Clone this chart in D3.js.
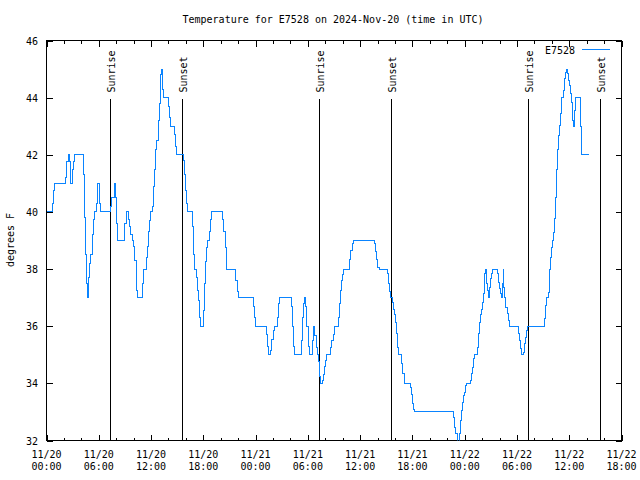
<!DOCTYPE html>
<html>
<head>
<meta charset="utf-8">
<script src="https://cdn.jsdelivr.net/npm/d3@7"></script>
<style>
  html, body { margin: 0; padding: 0; background: #fff; }
  svg { display: block; }
  text { font-family: "DejaVu Sans Mono", monospace; font-size: 10px; fill: #000; }
</style>
</head>
<body>
<svg id="chart" width="640" height="480"></svg>
<script>
// ---------------- data ----------------
const titleText = "Temperature for E7528 on 2024-Nov-20 (time in UTC)";
const yLabelText = "degrees F";
const seriesName = "E7528";
const startISO = "2024-11-20T00:00:00Z";
const endISO = "2024-11-22T18:00:00Z";

// minutes since 2024-11-20 00:00 UTC (each value holds until the next reading)
const offsetMinutes = [
  3, 41, 48, 58, 133, 140, 149, 156, 163, 177, 186, 193, 255, 264, 271, 278, 282, 287, 292, 298,
  305, 317, 324, 333, 347, 354, 363, 370, 443, 450, 466, 475, 484, 489, 539, 549, 562, 571, 581, 590,
  599, 608, 617, 622, 627, 661, 668, 686, 695, 702, 709, 718, 732, 739, 746, 753, 760, 769, 776, 782,
  787, 792, 796, 803, 840, 847, 854, 879, 886, 895, 943, 950, 957, 964, 971, 1005, 1012, 1019, 1030, 1039,
  1046, 1053, 1060, 1081, 1088, 1097, 1104, 1111, 1120, 1127, 1133, 1211, 1221, 1230, 1237, 1241, 1303, 1312, 1322, 1427,
  1434, 1441, 1517, 1523, 1528, 1542, 1551, 1560, 1569, 1588, 1597, 1604, 1689, 1696, 1702, 1707, 1753, 1762, 1771, 1780,
  1785, 1794, 1803, 1810, 1831, 1838, 1849, 1861, 1868, 1874, 1879, 1884, 1900, 1906, 1913, 1920, 1930, 1957, 1966, 1975,
  1985, 2012, 2019, 2026, 2033, 2040, 2047, 2085, 2095, 2104, 2113, 2258, 2267, 2274, 2281, 2292, 2347, 2354, 2361, 2368,
  2384, 2391, 2398, 2404, 2411, 2418, 2425, 2446, 2455, 2464, 2505, 2515, 2521, 2528, 2533, 2801, 2813, 2820, 2829, 2843,
  2852, 2859, 2866, 2872, 2879, 2886, 2891, 2921, 2927, 2934, 2939, 2946, 2966, 2973, 2980, 2987, 2994, 3001, 3008, 3015,
  3019, 3024, 3031, 3038, 3042, 3049, 3056, 3065, 3070, 3104, 3113, 3120, 3127, 3134, 3141, 3145, 3150, 3157, 3164, 3173,
  3180, 3187, 3251, 3258, 3265, 3271, 3283, 3290, 3297, 3304, 3310, 3430, 3437, 3444, 3455, 3462, 3466, 3473, 3480, 3485,
  3492, 3499, 3505, 3512, 3519, 3526, 3533, 3542, 3549, 3558, 3565, 3574, 3579, 3586, 3593, 3600, 3606, 3613, 3620, 3625,
  3629, 3634, 3641, 3675, 3682, 3735
];
// temperature, degrees F
const temps = [
  40, 40.3, 40.75, 41, 41.2, 41.75, 42, 41.75, 41, 41.5, 41.75, 42, 41.3, 39.8, 38.5, 37.5, 37, 37.25, 37.7, 38.2,
  38.5, 39.2, 39.75, 40, 40.3, 41, 40.3, 40, 40.2, 40.5, 41, 40.5, 39.6, 39, 39.6, 40, 39.75, 39.5, 39.2, 39,
  38.8, 38.3, 37.7, 37.25, 37, 37.5, 38, 38.4, 38.8, 39.3, 39.7, 40, 40.2, 40.9, 41.5, 42.2, 42.5, 43.2, 43.8, 44.4,
  44.8, 45, 44.3, 44, 43.7, 43.3, 43, 42.7, 42.3, 42, 41.8, 41.3, 40.75, 40.3, 40, 39.5, 38.5, 38, 37.7, 37.25,
  36.9, 36.3, 36, 36.55, 37.5, 38.25, 38.75, 39, 39.3, 39.75, 40, 39.75, 39.3, 38.75, 38.25, 38, 37.6, 37.2, 37, 36.7,
  36.3, 36, 35.7, 35.3, 35, 35.15, 35.55, 35.85, 36, 36.3, 36.8, 37, 36.7, 36, 35.3, 35, 35.5, 36.3, 36.8, 37,
  36.7, 36, 35.3, 35, 35.5, 36, 35.67, 35.27, 35, 34.75, 34.25, 34, 34.1, 34.3, 34.6, 34.8, 35, 35.27, 35.5, 35.7,
  36, 36.3, 36.8, 37.25, 37.6, 37.8, 38, 38.35, 38.65, 38.9, 39, 38.9, 38.6, 38.35, 38.07, 38, 37.83, 37.5, 37.2, 37,
  36.84, 36.6, 36.4, 36.14, 35.73, 35.27, 35, 34.68, 34.33, 34, 33.87, 33.6, 33.3, 33.1, 33, 32.8, 32.47, 32.23, 31.7, 32.23,
  32.7, 33.05, 33.34, 33.58, 33.69, 33.93, 34, 34.1, 34.33, 34.57, 34.86, 35, 35.27, 35.73, 36.14, 36.4, 36.6, 36.84, 37.13, 37.48,
  37.83, 38, 37.48, 37.25, 37, 37.37, 37.66, 37.83, 38, 37.83, 37.54, 37.31, 37.13, 37, 37.48, 38, 37.37, 37, 36.67, 36.43,
  36.2, 36, 35.73, 35.5, 35.21, 35, 35.09, 35.38, 35.62, 35.85, 36, 36.26, 36.73, 37, 37.19, 37.6, 38, 38.42, 38.77, 39,
  39.29, 39.76, 40.5, 41.5, 42.2, 42.68, 43.03, 43.43, 44.02, 44.25, 44.66, 44.89, 45, 44.83, 44.6, 44.43, 44.13, 43.84, 43.49, 43.2,
  43, 43.55, 44, 43, 42, 42
];

const sunLabels = ["Sunrise", "Sunset", "Sunrise", "Sunset", "Sunrise", "Sunset"];
const sunTimes = [
  "2024-11-20T07:14:00Z", "2024-11-20T15:36:00Z",
  "2024-11-21T07:19:00Z", "2024-11-21T15:34:00Z",
  "2024-11-22T07:17:00Z", "2024-11-22T15:33:00Z"
];
const yTickValues = [32, 34, 36, 38, 40, 42, 44, 46];

// ---------------- layout ----------------
const L = 46.5, R = 621.5, T = 40.5, B = 440.5;
const lineColor = "#0a84ff";

const svg = d3.select("#chart");
const start = new Date(startISO);
const x = d3.scaleUtc().domain([start, new Date(endISO)]).range([L, R]);
const y = d3.scaleLinear().domain([32, 46]).range([B, T]);

const data = offsetMinutes.map((m, i) => ({ t: new Date(start.getTime() + m * 60000), v: temps[i] }));

// clip
svg.append("defs").append("clipPath").attr("id", "clip")
  .append("rect").attr("x", L).attr("y", T).attr("width", R - L).attr("height", B - T);

// major / minor x ticks
const majorTicks = d3.utcHour.every(6).range(start, new Date(new Date(endISO).getTime() + 1));
const minorTicks = d3.utcHour.every(2).range(start, new Date(endISO)).filter(d => d.getUTCHours() % 6 !== 0);

const g = svg.append("g").attr("shape-rendering", "crispEdges");

// bottom axis
const xAxisB = d3.axisBottom(x).tickValues(majorTicks).tickSizeInner(-6).tickSizeOuter(0).tickFormat("");
g.append("g").attr("transform", `translate(0,${B})`).call(xAxisB)
  .call(s => s.select(".domain").remove());
g.append("g").attr("transform", `translate(0,${B})`)
  .call(d3.axisBottom(x).tickValues(minorTicks).tickSizeInner(-3).tickSizeOuter(0).tickFormat(""))
  .call(s => s.select(".domain").remove());
// top axis (mirror)
g.append("g").attr("transform", `translate(0,${T})`)
  .call(d3.axisTop(x).tickValues(majorTicks).tickSizeInner(-6).tickSizeOuter(0).tickFormat(""))
  .call(s => s.select(".domain").remove());
g.append("g").attr("transform", `translate(0,${T})`)
  .call(d3.axisTop(x).tickValues(minorTicks).tickSizeInner(-3).tickSizeOuter(0).tickFormat(""))
  .call(s => s.select(".domain").remove());
// left / right
g.append("g").attr("transform", `translate(${L},0)`)
  .call(d3.axisLeft(y).tickValues(yTickValues).tickSizeInner(-6).tickSizeOuter(0).tickFormat(""))
  .call(s => s.select(".domain").remove());
g.append("g").attr("transform", `translate(${R},0)`)
  .call(d3.axisRight(y).tickValues(yTickValues).tickSizeInner(-6).tickSizeOuter(0).tickFormat(""))
  .call(s => s.select(".domain").remove());
g.selectAll(".tick line").attr("stroke", "#000");

// tick labels
const fmtD = d3.utcFormat("%m/%d"), fmtH = d3.utcFormat("%H:%M");
const xl = svg.append("g");
majorTicks.forEach(d => {
  const t = xl.append("text").attr("text-anchor", "middle").attr("x", x(d));
  t.append("tspan").attr("x", x(d)).attr("y", 458).text(fmtD(d));
  t.append("tspan").attr("x", x(d)).attr("y", 470).text(fmtH(d));
});
svg.append("g").selectAll("text").data(yTickValues).join("text")
  .attr("x", 38).attr("y", d => y(d) + 4).attr("text-anchor", "end").text(d => d);

// sunrise / sunset
sunTimes.forEach((s, i) => {
  const xx = Math.round(x(new Date(s))) + 0.5;
  g.append("line").attr("x1", xx).attr("x2", xx).attr("y1", 99).attr("y2", B).attr("stroke", "#000");
  svg.append("text").attr("transform", `translate(${xx + 4.5},92.5) rotate(-90)`)
    .attr("text-anchor", "start").text(sunLabels[i]);
});

// data line
const line = d3.line().x(d => x(d.t)).y(d => y(d.v)).curve(d3.curveStepAfter);
svg.append("path").datum(data).attr("clip-path", "url(#clip)")
  .attr("fill", "none").attr("stroke", lineColor).attr("stroke-width", 1)
  .attr("shape-rendering", "crispEdges").attr("d", line);

// border
g.append("rect").attr("x", L).attr("y", T).attr("width", R - L).attr("height", B - T)
  .attr("fill", "none").attr("stroke", "#000");

// title and labels
svg.append("text").attr("x", 333).attr("y", 23).attr("text-anchor", "middle").text(titleText);
svg.append("text").attr("transform", "translate(14,240) rotate(-90)").attr("text-anchor", "middle").text(yLabelText);

// legend
svg.append("text").attr("x", 575).attr("y", 53.5).attr("text-anchor", "end").text(seriesName);
svg.append("line").attr("x1", 582).attr("x2", 610).attr("y1", 49.5).attr("y2", 49.5)
  .attr("stroke", lineColor).attr("shape-rendering", "crispEdges");
</script>
</body>
</html>
